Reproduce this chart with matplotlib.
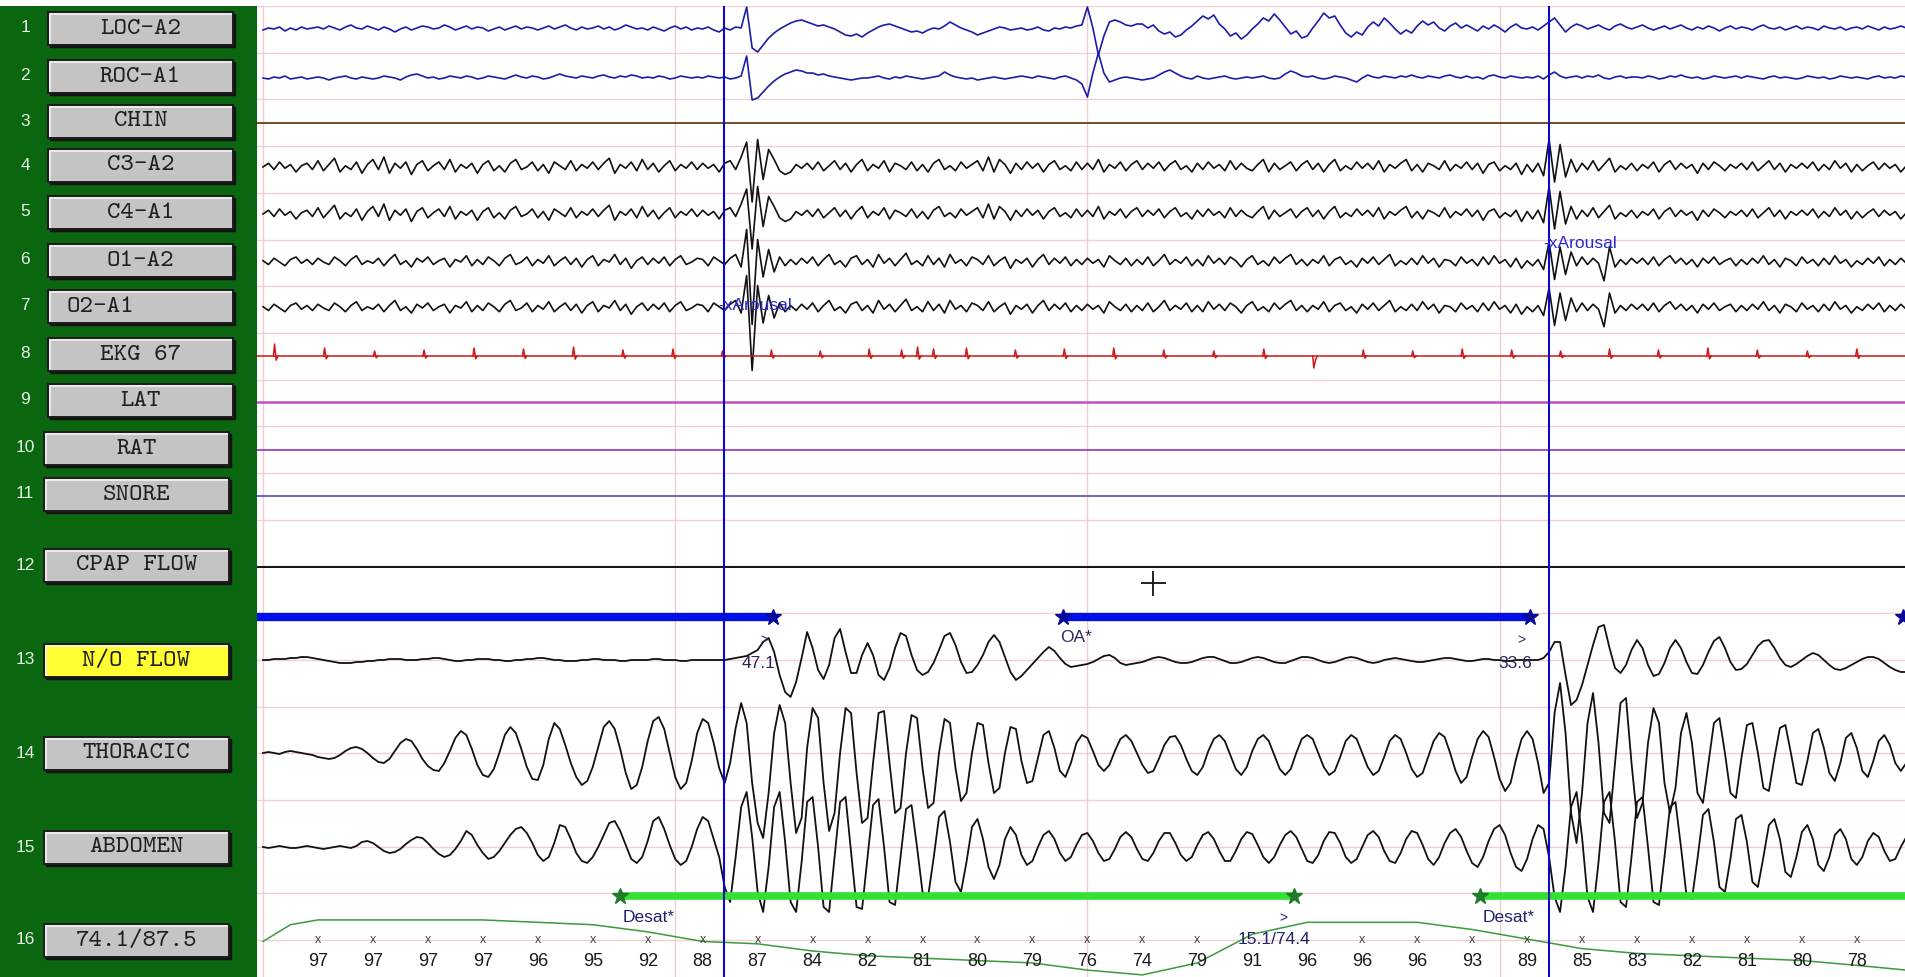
#!/usr/bin/env python3
"""30 s polysomnography epoch: channel buttons on the left, traces on the right."""
import numpy as np
import matplotlib.pyplot as plt
from matplotlib.patches import Rectangle

DT = 0.1  # s between stored samples

channel_names = ["LOC-A2", "ROC-A1", "CHIN", "C3-A2", "C4-A1", "O1-A2", "O2-A1",
                 "EKG 67", "LAT", "RAT", "SNORE", "CPAP FLOW", "N/O FLOW",
                 "THORACIC", "ABDOMEN", "74.1/87.5"]

# deflections in px (up positive), one row of 10 samples per second
loc_a2 = [
    [0, 2, 1, 3, -1, 2, 0, 3, 1, 2], [3, 1, 4, 2, 0, 3, 5, 2, 1, 4],
    [2, 0, 3, 1, -2, 1, 3, 0, 2, 4], [3, 1, 2, 5, 3, 0, 2, 4, 1, 3],
    [2, -1, 1, 3, 0, 2, 4, 1, 3, 2], [0, 2, 4, 1, 3, 5, 2, 0, 3, 1],
    [2, 4, 1, 3, 0, 2, 5, 3, 1, 2], [0, 3, 1, -1, 2, 4, 1, 3, 0, 2],
    [1, 3, 0, -2, 2, 0, 3, 2, 23, -18], [-22, -15, -8, -3, 1, 4, 7, 9, 10, 8],
    [6, 4, 5, 3, 1, -2, -5, -6, -4, -7], [-3, 0, 3, 5, 6, 4, 2, 0, -2, -1],
    [-3, 0, 2, 1, 4, 8, 5, 2, 0, -2], [-5, -3, -1, 1, 3, 2, 0, 1, 2, 0],
    [1, 3, 0, -1, 2, 1, 3, 2, 4, 5], [23, 2, -25, -6, 8, 10, 8, 5, 4, 6],
    [6, 2, 5, -1, -4, -2, -7, -5, 0, 4], [9, 14, 11, 15, 6, 1, -6, -3, -9, -5],
    [1, 6, 12, 9, 16, 10, 3, -4, -1, -8], [-6, 2, 9, 17, 12, 14, 5, -3, -7, -2],
    [-5, 3, 8, 4, 12, 7, 1, -4, 0, -3], [4, 9, 5, 8, 2, -1, 4, 7, 2, 5],
    [2, -1, 4, 1, 5, 2, -2, 3, 6, 2], [1, 3, 0, 4, 8, 12, 5, -2, 3, 6],
    [4, 1, 3, 5, 2, 0, 4, 6, 3, 1], [3, 5, 2, 0, 2, 4, 1, 3, 5, 2],
    [0, 3, 1, 4, 2, -1, 2, 4, 1, 3], [2, 0, 3, 5, 2, 1, 3, 0, 2, 4],
    [1, 3, 2, 0, 4, 2, 1, 3, 0, 2], [3, 1, 4, 2, 0, 3, 1, 2, 4, 2],
]
roc_a1 = [
    [0, -1, 1, 0, 2, -1, 0, 1, -1, 0], [1, 0, -2, 0, 1, 2, 0, -1, 1, 0],
    [-1, 0, 2, 1, 0, -2, 1, 3, 4, 2], [0, 1, -1, 0, 2, 1, 0, 2, 1, -1],
    [0, 2, 1, 0, -1, 1, 3, 1, 0, 2], [1, -1, 0, 2, 4, 2, 1, 0, 2, 1],
    [0, 2, 3, 1, 0, 2, 1, 3, 2, 0], [1, 0, 2, 1, -1, 0, 2, 1, 0, 1],
    [0, 2, 1, 0, 1, -1, 0, 2, 22, -22], [-20, -14, -8, -3, 1, 4, 6, 8, 7, 5],
    [5, 3, 4, 2, 1, 0, -1, -2, -1, 0], [0, 1, 2, 0, -1, 1, 0, 2, 1, 0],
    [-1, 0, 1, 2, 6, 3, 1, 0, -1, 0], [-2, -1, 0, 1, 0, -1, 0, 1, 2, 1],
    [0, 2, 1, 0, -1, 1, 2, 0, -2, -6], [-19, 5, 25, 5, -4, -2, 0, 1, 0, -1],
    [-2, -1, 0, 3, 6, 8, 5, 2, 0, -1], [2, 0, -1, 0, 1, 2, 0, -1, 0, 1],
    [0, 1, 2, 0, -1, 0, 4, 7, 5, 2], [1, 2, 0, -1, 0, 2, 1, 0, -2, -4],
    [0, 3, 1, 0, 2, 1, 0, 2, 1, 3], [1, 0, 2, 1, 0, 2, 3, 1, 0, 2],
    [0, 1, -1, 2, 3, 1, 0, 2, 1, 0], [1, 0, 2, -1, 3, 6, 2, 0, 1, 2],
    [0, 2, 1, 3, 0, -1, 1, 2, 0, 1], [1, 0, 2, 1, -1, 0, 2, 1, 3, 1],
    [0, 1, -1, 0, 2, 1, 0, 1, 2, 0], [2, 1, 0, -1, 1, 2, 0, 1, 0, -1],
    [0, 2, 1, 0, 1, -1, 0, 2, 1, 0], [1, 0, -1, 1, 2, 0, 1, 0, 2, 1],
]
# C3-A2 and C4-A1 carry the same signal
c3_c4 = [
    [0, 3, -2, 4, -1, 2, -4, 1, 3, -2], [5, -3, 2, 7, -4, 1, -2, 4, -5, 2],
    [6, -2, 8, -5, 3, -1, 4, -6, 2, 5], [-3, 1, 4, -2, 6, -4, 2, -1, 3, -5],
    [2, 5, -3, 1, -4, 3, 6, -2, 0, 4], [-3, 2, -5, 4, 1, -2, 5, -3, 2, -1],
    [4, -2, 3, 7, -5, 2, -1, 4, -3, 6], [-2, 3, -4, 1, 5, -3, 2, -1, 4, -2],
    [3, -1, 2, -4, 3, 5, -2, 8, 20, -28], [22, -10, 14, 6, -3, -6, -4, 2, -1, 3],
    [-2, 4, -3, 1, 5, -2, 3, -4, 2, 6], [-3, 2, -1, 5, -4, 3, 1, -2, 4, -3],
    [2, -4, 3, 6, -2, 1, -3, 4, -1, 2], [5, -3, 8, -4, 6, 2, -5, 3, -2, 4],
    [-1, 3, -4, 2, 5, -2, 1, -3, 4, -2], [3, -2, 6, -4, 2, -1, 4, -3, 2, 5],
    [-2, 3, -1, 4, -3, 2, 5, -2, 1, -4], [3, -2, 4, -1, 2, -3, 5, -2, 3, -1],
    [-3, 2, 6, -4, 3, -2, 1, 4, -3, 2], [5, -2, 3, -4, 2, 6, -3, 1, -2, 4],
    [-1, 3, -2, 5, -4, 2, -1, 3, 6, -3], [2, -4, 3, 1, -2, 5, -3, 2, -1, 4],
    [-2, 3, -5, 2, 4, -3, 1, -2, 3, -6], [2, -4, 3, -7, 22, -12, 18, -8, 6, -4],
    [3, -2, 5, -3, 2, 7, -4, 1, -2, 3], [-3, 2, -1, 4, -4, 2, 5, -2, 3, -1],
    [2, -5, 3, -2, 4, 1, -3, 2, -1, 3], [-2, 4, -3, 1, 5, -2, 3, -4, 2, -1],
    [3, -1, 4, -3, 2, -2, 5, -1, 3, -4], [2, -3, 1, 4, -2, 3, -1, 2, -4, 1],
]
# O1-A2 and O2-A1 carry the same signal
o1_o2 = [
    [1, -2, 3, 0, -3, 2, 4, -1, 2, -2], [3, 0, -2, 4, 1, -3, 2, 5, -2, 1],
    [-1, 3, -3, 2, 6, -2, 1, -4, 3, 0], [4, -2, 1, 3, -4, 2, 0, 5, -3, 2],
    [-2, 4, 1, -3, 3, 6, -2, 0, 4, -3], [2, -1, 5, -3, 1, 4, -2, 3, -4, 2],
    [5, -3, 2, 0, 6, -2, 3, -5, 1, 4], [-2, 3, -1, 4, -3, 2, 5, -2, 0, 3],
    [2, -3, 4, 1, -2, 3, 6, -4, 26, -50], [18, -12, 10, -8, 4, -3, 2, -2, 3, -1],
    [4, -3, 2, 6, -2, 1, -4, 3, 5, -2], [2, -4, 6, -1, 3, -3, 2, 7, -2, 1],
    [-3, 5, -2, 3, -4, 6, -1, 2, -3, 4], [2, -2, 5, -3, 1, 4, -5, 2, -1, 3],
    [-4, 2, 6, -2, 3, -1, 4, -3, 2, -2], [3, -1, 2, -4, 5, 1, -2, 3, -3, 2],
    [-2, 4, -3, 1, 6, -2, 2, -1, 4, -3], [2, -3, 5, -1, 3, -2, 4, 1, -4, 2],
    [5, -2, 1, -3, 4, -1, 3, 6, -2, 2], [-3, 2, -1, 5, -3, 2, 4, -2, 1, -4],
    [3, -1, 4, -2, 2, 6, -3, 1, -2, 3], [-2, 5, -1, 3, -4, 2, 1, -3, 4, -1],
    [2, -3, 4, -2, 5, -1, 2, -4, 3, -5], [1, -3, 2, -6, 16, -14, 12, -10, 8, -3],
    [4, -2, 3, -1, -15, 12, -4, 2, -2, 3], [-1, 3, -2, 4, -3, 2, 5, -1, 3, -2],
    [2, -4, 3, -1, 4, -2, 1, 3, -3, 2], [-2, 3, -1, 5, -2, 2, -4, 3, 1, -3],
    [4, -1, 2, -3, 3, -2, 5, -1, 2, -4], [1, -2, 3, -1, 4, -3, 2, -2, 3, -1],
]
nasal_flow = [
    [0, 0, 1, 1, 1, 2, 2, 3, 3, 2], [1, 0, -1, -2, -3, -3, -3, -2, -2, -1],
    [-1, 0, 0, 1, 1, 1, 0, 0, 0, 1], [1, 2, 2, 1, 0, -1, -1, 0, 0, 1],
    [1, 1, 0, 0, -1, -1, 0, 0, 1, 1], [2, 2, 1, 0, 0, -1, -1, -1, 0, 0],
    [1, 1, 0, 0, 0, -1, -1, 0, 0, 0], [0, 1, 1, 0, 0, 0, -1, -1, 0, 0],
    [0, 0, 0, 0, 0, 1, 2, 3, 4, 7], [10, 18, 22, 8, -15, -32, -37, -22, 2, 28],
    [12, -10, -19, -5, 22, 31, 8, -13, -13, 5], [17, 5, -15, -20, -8, 12, 27, 24, 5, -10],
    [-15, -12, -3, 10, 24, 27, 15, -2, -13, -12], [-5, 5, 18, 25, 18, 3, -12, -20, -16, -10],
    [-4, 2, 8, 13, 9, 2, -4, -7, -6, -5], [-4, -2, 1, 4, 5, 2, -3, -5, -4, -3],
    [-2, 0, 2, 3, 2, 0, -2, -3, -3, -2], [0, 2, 3, 3, 1, -1, -3, -3, -2, 0],
    [2, 3, 2, 0, -2, -3, -3, -1, 1, 3], [3, 2, 0, -2, -3, -2, 0, 2, 3, 2],
    [0, -2, -3, -2, 0, 1, 2, 1, 0, -1], [-2, -2, -1, 0, 1, 2, 2, 1, 0, -1],
    [-1, 0, 1, 1, 0, 0, -1, -1, 0, 0], [0, 0, 0, 2, 8, 18, 18, -15, -45, -40],
    [-25, -5, 15, 33, 35, 12, -8, -13, -5, 10], [20, 12, -5, -16, -14, -3, 12, 20, 12, -2],
    [-13, -14, -5, 8, 19, 23, 12, -2, -10, -9], [-4, 5, 14, 19, 20, 12, 2, -5, -7, -4],
    [0, 4, 7, 5, 0, -5, -9, -10, -8, -5], [-2, 1, 3, 3, 1, -3, -7, -10, -12, -12],
]
thoracic = [
    [0, 1, 0, -1, 1, 2, 1, 0, -1, -2], [-4, -5, -6, -5, -2, 2, 5, 6, 4, 0],
    [-5, -9, -10, -6, 2, 10, 14, 12, 4, -6], [-13, -17, -18, -10, 2, 15, 22, 18, 4, -12],
    [-22, -24, -16, 0, 18, 26, 20, 4, -14, -26], [-27, -12, 14, 30, 24, 8, -10, -24, -32, -28],
    [-14, 6, 26, 32, 24, 4, -20, -36, -32, -14], [12, 32, 36, 24, 0, -24, -36, -30, -8, 20],
    [34, 30, 10, -15, -30, -10, 25, 50, 30, -30], [-70, -85, -40, 20, 48, 30, -30, -80, -65, 5],
    [45, 35, -30, -78, -60, 0, 45, 40, -20, -70], [-65, -10, 40, 42, -10, -60, -55, 0, 38, 35],
    [-15, -55, -50, 0, 34, 30, -15, -48, -40, 0], [30, 28, -10, -40, -35, 0, 26, 24, -8, -30],
    [-28, -5, 18, 22, 5, -18, -24, -10, 10, 18], [15, 2, -12, -18, -12, 2, 14, 18, 12, 0],
    [-12, -20, -18, -6, 8, 16, 17, 8, -6, -18], [-22, -14, 2, 14, 18, 12, -2, -16, -22, -14],
    [2, 14, 18, 12, -2, -16, -22, -16, 0, 14], [18, 14, 0, -14, -22, -18, -4, 12, 18, 14],
    [0, -14, -22, -18, -4, 12, 18, 14, 0, -16], [-24, -20, -4, 12, 20, 16, 0, -18, -30, -24],
    [-4, 14, 22, 16, -4, -26, -38, -30, -6, 14], [22, 14, -10, -40, -30, 40, 70, 20, -60, -90],
    [-40, 30, 60, 10, -60, -70, -10, 50, 55, -10], [-65, -50, 10, 45, 30, -30, -60, -35, 20, 40],
    [10, -40, -50, -10, 30, 35, 0, -40, -45, -5], [28, 30, 0, -35, -38, -5, 25, 28, 0, -30],
    [-32, -8, 20, 24, 5, -20, -28, -10, 15, 20], [5, -18, -24, -8, 12, 18, 8, -10, -18, -10],
]
abdomen = [
    [0, -1, 0, 1, 0, -1, -1, 0, 1, 0], [-1, -2, -1, 0, 1, 0, -1, 1, 5, 6],
    [4, 0, -4, -6, -5, -2, 3, 7, 10, 9], [4, -2, -7, -10, -8, -2, 6, 16, 12, 2],
    [-6, -12, -10, -4, 4, 12, 18, 20, 14, 4], [-8, -14, -10, 4, 22, 20, 8, -6, -14, -16],
    [-10, 0, 12, 24, 26, 16, 2, -12, -16, -10], [6, 26, 30, 18, 2, -12, -18, -14, 0, 18],
    [30, 26, 8, -10, -40, -55, -10, 40, 55, 10], [-45, -65, -20, 40, 55, 5, -55, -65, -15, 45],
    [50, 0, -60, -65, -10, 45, 50, -5, -60, -62], [-10, 42, 48, 0, -55, -58, -10, 38, 42, 0],
    [-45, -50, -12, 30, 36, 5, -35, -45, -15, 20], [28, 8, -20, -32, -18, 8, 20, 12, -8, -18],
    [-14, 0, 12, 16, 8, -6, -14, -10, 2, 12], [14, 6, -6, -14, -12, -2, 10, 15, 10, -2],
    [-12, -14, -6, 6, 14, 14, 4, -8, -14, -10], [2, 12, 15, 8, -4, -14, -14, -4, 8, 15],
    [13, 2, -10, -16, -10, 2, 12, 16, 10, -2], [-14, -16, -8, 6, 15, 14, 4, -10, -16, -12],
    [0, 12, 16, 10, -4, -14, -16, -6, 8, 16], [14, 2, -12, -18, -10, 4, 14, 18, 10, -4],
    [-16, -20, -10, 6, 18, 22, 12, -6, -20, -24], [-12, 8, 22, 18, -10, -50, -65, -20, 40, 55],
    [10, -50, -65, -15, 45, 55, 5, -55, -60, -10], [45, 50, 0, -55, -58, -10, 40, 45, 0, -48],
    [-52, -12, 32, 38, 5, -40, -45, -12, 28, 32], [5, -35, -40, -10, 22, 28, 8, -25, -30, -10],
    [15, 22, 8, -18, -24, -10, 12, 18, 8, -12], [-18, -10, 6, 14, 10, -4, -14, -12, 0, 10],
]

# R waves: time (s) and height (px); negative height = downward artefact
ekg_beat_t = [0.21, 1.12, 2.03, 2.93, 3.84, 4.74, 5.65, 6.55, 7.46, 8.36, 9.25,
              10.14, 11.03, 11.62, 11.91, 12.2, 12.80, 13.69, 14.58, 15.48, 16.39,
              17.30, 18.21, 19.12, 20.02, 20.92, 21.82, 22.72, 23.61, 24.50, 25.39,
              26.29, 27.19, 28.10, 29.00]
ekg_beat_h = [12, 8, 5, 6, 8, 7, 9, 6, 7, 5, 6, 5, 7, 6, 9, 7, 8, 6, 7, 8, 6,
              5, 7, -12, 6, 5, 7, 6, 5, 7, 6, 8, 6, 5, 7]

# SpO2 (%) printed once per second
spo2_sec = list(range(1, 30))
spo2_labels = [97, 97, 97, 97, 96, 95, 92, 88, 87, 84, 82, 81, 80, 79, 76, 74,
               79, 91, 96, 96, 96, 93, 89, 85, 83, 82, 81, 80, 78]
spo2_first = [(0.0, 88), (0.5, 95)]
spo2_last = (29.9, 76)

# scored events (s)
apnea_events = [(-1.0, 9.28), (14.56, 23.05), (29.84, 31.0)]
apnea_end_text = ["47.1", "33.6"]
desat_events = [(6.5, 18.76), (22.14, 31.0)]
desat_end_text = "15.1/74.4"
arousal_t = [8.39, 23.4]
cursor_mark = (16.19, 583)

# ---- layout (pixels) ----
W, H, TOP = 1905, 977, 6
PANEL_W = 257
PX_PER_S = 54.96
T0_PX = 263
rows = [30, 78, 123, 167, 214, 262, 308, 356, 402, 450, 496, 567, 660, 753, 847, 940]
grid_rows = TOP + 46.7 * np.arange(21)
arousal_rows = [305, 243]
apnea_row, desat_row = 617, 896
spo2_ref, spo2_gain = 88.6, 2.39  # % level drawn on the row, px per %
EEG_GAIN = 1.25

sans = ["Liberation Sans", "DejaVu Sans"]
mono = ["cmtt10", "DejaVu Sans Mono"]

fig = plt.figure(figsize=(W / 100, H / 100), dpi=100)
fig.patch.set_facecolor("white")

# left button panel
panel = fig.add_axes([0, 0, PANEL_W / W, (H - TOP) / H])
panel.set_xlim(0, PANEL_W)
panel.set_ylim(H, TOP)
panel.axis("off")
panel.add_patch(Rectangle((0, TOP), PANEL_W, H - TOP, color="#0b6610", zorder=0))
for i, (name, y) in enumerate(zip(channel_names, rows)):
    x0 = 48 if i < 9 else 44
    bw, bh = 185, 33
    yc = y - 2 if i < 12 else y
    top = yc - bh / 2
    face = "#ffff33" if name == "N/O FLOW" else "#c4c4c4"
    panel.add_patch(Rectangle((x0 + 2, top + 2), bw, bh, color="#141414", zorder=1))
    panel.add_patch(Rectangle((x0, top), bw, bh, facecolor=face,
                              edgecolor="#1c1c1c", lw=1.4, zorder=2))
    panel.plot([x0 + 2, x0 + 2, x0 + bw - 2], [top + bh - 2, top + 2, top + 2],
               color="#f2f2f2", lw=1.2, zorder=3)
    if name == "O2-A1":
        panel.text(x0 + 18, yc + 1, name, ha="left", va="center", fontsize=18.5,
                   family=mono, color="#202020", zorder=4)
    else:
        panel.text(x0 + bw / 2, yc + 1, name, ha="center", va="center", fontsize=18.5,
                   family=mono, color="#202020", zorder=4)
    panel.text(25, yc, str(i + 1), ha="center", va="center", fontsize=12.5,
               family=sans, color="#e4f0e4")

# trace area: x in seconds, y in pixel rows
ax = fig.add_axes([PANEL_W / W, 0, 1 - PANEL_W / W, (H - TOP) / H])
ax.set_xlim((PANEL_W - T0_PX) / PX_PER_S, (W - T0_PX) / PX_PER_S)
ax.set_ylim(H, TOP)
ax.axis("off")

for gy in grid_rows:
    ax.axhline(gy, color="#f3cfcf", lw=1, zorder=0)
for gx in [0, 7.5, 15, 22.5]:
    ax.axvline(gx, color="#f0cccc", lw=1, zorder=0)

t = np.arange(300) * DT


def sig(rows_):
    return np.asarray(rows_, dtype=float).ravel()


eye_col = "#1c1ca8"
ax.plot(t, rows[0] - sig(loc_a2), color=eye_col, lw=1.2)
ax.plot(t, rows[1] - sig(roc_a1), color=eye_col, lw=1.2)
ax.axhline(rows[2], color="#6e3c12", lw=1.3)
for r in (rows[3], rows[4]):
    ax.plot(t, r - EEG_GAIN * sig(c3_c4), color="#111111", lw=1.2)
for r in (rows[5], rows[6]):
    ax.plot(t, r - EEG_GAIN * sig(o1_o2), color="#111111", lw=1.2)

# EKG: flat baseline with R spikes and small S dips
ax.axhline(rows[7], color="#d01818", lw=1.1)
for bt, bh_ in zip(ekg_beat_t, ekg_beat_h):
    ax.plot([bt - 0.02, bt, bt + 0.03, bt + 0.06],
            [rows[7], rows[7] - bh_, rows[7] + abs(bh_) * 0.35, rows[7]],
            color="#d01818", lw=1.1)

ax.axhline(rows[8], color="#c24cc2", lw=1.8)
ax.axhline(rows[9], color="#9632c0", lw=1.2)
ax.axhline(rows[10], color="#4c4cc4", lw=1.2)
ax.axhline(rows[11], color="#111111", lw=1.4)

ax.plot(t, rows[12] - sig(nasal_flow), color="#111111", lw=1.3)
ax.plot(t, rows[13] - sig(thoracic), color="#111111", lw=1.3)
ax.plot(t, rows[14] - sig(abdomen), color="#111111", lw=1.3)

# SpO2 trace through the per-second values
sp_t = [p[0] for p in spo2_first] + spo2_sec + [spo2_last[0]]
sp_v = [p[1] for p in spo2_first] + spo2_labels + [spo2_last[1]]
ax.plot(sp_t, rows[15] - (np.array(sp_v) - spo2_ref) * spo2_gain,
        color="#3c9a3c", lw=1.1)

d_end = desat_events[0][1]
note_right = d_end + 0.3
note_left = note_right - 1.75
for s, v in zip(spo2_sec, spo2_labels):
    # tick crosses under the desaturation note are covered by it
    if not (note_left - 0.1 < s < note_right + 0.1):
        ax.text(s, rows[15], "x", ha="center", va="center", fontsize=9,
                family=sans, color="#444444")
    ax.text(s, rows[15] + 21, str(v), ha="center", va="center", fontsize=13,
            family=sans, color="#1a1a1a")

# apnea events (blue) and desaturations (green)
for k, (a, b) in enumerate(apnea_events):
    ax.plot([a, b], [apnea_row, apnea_row], color="#0010e6", lw=6,
            solid_capstyle="butt", zorder=3)
    ax.plot([a, b], [apnea_row, apnea_row], ls="none", marker="*", ms=12,
            color="#0a0a9a", zorder=4)
    if k == 1:
        ax.text(a - 0.05, apnea_row + 20, "OA*", ha="left", va="center",
                fontsize=12.5, family=sans, color="#28285a")
for k, txt in enumerate(apnea_end_text):
    end = apnea_events[k][1]
    ax.text(end - 0.15, apnea_row + 23, ">", ha="center", va="center",
            fontsize=10, family=sans, color="#28285a")
    ax.text(end + 0.05, rows[12] + 4, txt, ha="right", va="center",
            fontsize=12.5, family=sans, color="#28285a")

for a, b in desat_events:
    ax.plot([a, b], [desat_row, desat_row], color="#33e033", lw=5.5,
            solid_capstyle="butt", zorder=3)
    ax.plot([a, b], [desat_row, desat_row], ls="none", marker="*", ms=12,
            color="#1f7a2a", zorder=4)
    ax.text(a + 0.05, desat_row + 22, "Desat*", ha="left", va="center",
            fontsize=12.5, family=sans, color="#22226a")
ax.text(d_end - 0.2, desat_row + 22, ">", ha="center", va="center",
        fontsize=10, family=sans, color="#22226a")
ax.text(note_right, rows[15], desat_end_text, ha="right", va="center",
        fontsize=12.5, family=sans, color="#22226a")

# cursor lines and arousal markers
for at, ay in zip(arousal_t, arousal_rows):
    ax.axvline(at, color="#0a0ac8", lw=1.5, zorder=5)
    ax.text(at - 0.1, ay, "-xArousal", ha="left", va="center", fontsize=12.5,
            family=sans, color="#2a2ad0", zorder=6)

ax.plot(*cursor_mark, marker="+", ms=18, mew=1.3, color="#111111")

fig.savefig("out.png", dpi=100, facecolor="white")
